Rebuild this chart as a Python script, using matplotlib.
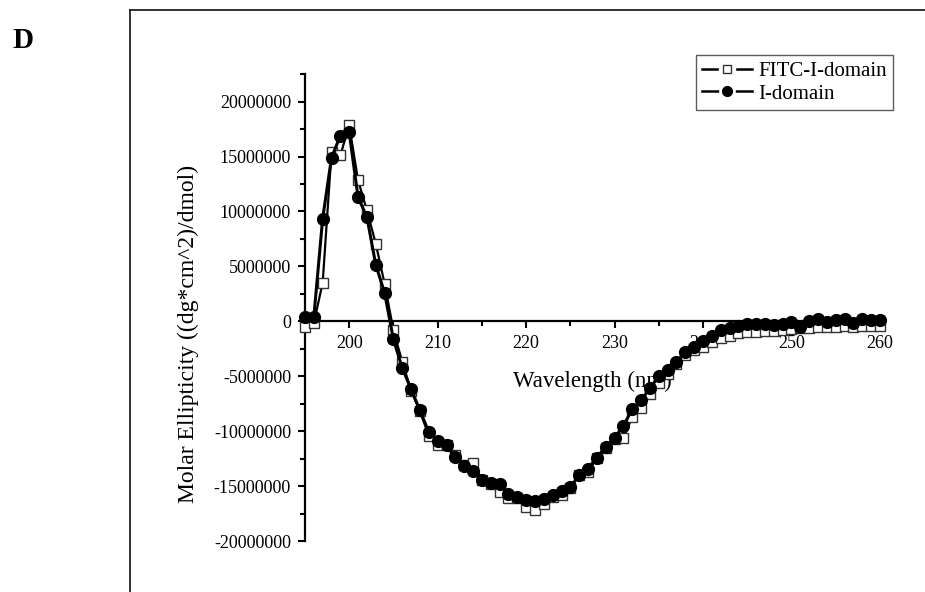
import numpy as np
import matplotlib
matplotlib.use('Agg')
import matplotlib.pyplot as plt
from matplotlib.lines import Line2D
from matplotlib.legend_handler import HandlerTuple
from matplotlib.ticker import MultipleLocator, FuncFormatter

plt.rcParams['font.family'] = ['Liberation Serif', 'DejaVu Serif']

# 波長 (nm)
wavelength = np.arange(195, 261)

# I-domain (實心圓), 單位 1e6
i_domain = [
    0.4, 0.4, 9.35, 14.9, 16.9, 17.2, 11.3, 9.5, 5.16, 2.6,
    -1.65, -4.25, -6.2, -8.1, -10.1, -10.9, -11.3, -12.36, -13.2, -13.6,
    -14.4, -14.7, -14.85, -15.7, -16.0, -16.3, -16.4, -16.15, -15.85, -15.45,
    -15.1, -14.0, -13.4, -12.4, -11.4, -10.6, -9.5, -8.0, -7.2, -6.07,
    -5.0, -4.46, -3.7, -2.8, -2.3, -1.75, -1.3, -0.82, -0.58, -0.43,
    -0.27, -0.21, -0.21, -0.3, -0.2, -0.06, -0.52, 0.0, 0.18, -0.06,
    0.09, 0.24, -0.15, 0.24, 0.15, 0.09,
]

# FITC-I-domain (空心方塊), 單位 1e6
fitc_domain = [
    -0.5, -0.15, 3.5, 15.4, 15.1, 17.85, 12.85, 10.1, 7.08, 3.43,
    -0.82, -3.7, -6.3, -8.2, -10.4, -11.3, -11.3, -12.2, -13.1, -12.9,
    -14.4, -14.8, -15.5, -16.1, -16.1, -16.9, -17.15, -16.6, -16.0, -15.8,
    -15.2, -14.0, -13.7, -12.4, -11.5, -10.7, -10.6, -8.7, -7.9, -6.65,
    -5.6, -4.8, -3.9, -3.1, -2.6, -2.3, -1.9, -1.5, -1.3, -1.1,
    -1.0, -0.95, -0.9, -0.85, -0.8, -0.7, -0.65, -0.6, -0.55, -0.5,
    -0.5, -0.45, -0.5, -0.45, -0.4, -0.4,
]

i_domain = np.array(i_domain) * 1e6
fitc_domain = np.array(fitc_domain) * 1e6

fig = plt.figure(figsize=(9.25, 5.92), dpi=100)
ax = fig.add_axes([0.3297, 0.0861, 0.6216, 0.7886])

ax.plot(wavelength, fitc_domain, '-', color='black', lw=1.6,
        marker='s', ms=7, mfc='white', mec='#333333', mew=1.0,
        zorder=3, clip_on=False)
ax.plot(wavelength, i_domain, '-', color='black', lw=2.2,
        marker='o', ms=8.5, mfc='black', mec='black',
        zorder=4, clip_on=False)

ax.set_xlim(195, 260)
ax.set_ylim(-20000000, 22500000)

ax.spines['top'].set_visible(False)
ax.spines['right'].set_visible(False)
ax.spines['bottom'].set_position(('data', 0))
for s in ['left', 'bottom']:
    ax.spines[s].set_linewidth(1.6)

ax.xaxis.set_minor_locator(MultipleLocator(5))
ax.yaxis.set_major_locator(MultipleLocator(5000000))
ax.yaxis.set_minor_locator(MultipleLocator(2500000))
ax.set_xticks([200, 210, 220, 230, 240, 250, 260])
ax.yaxis.set_major_formatter(FuncFormatter(lambda v, p: f'{int(round(v))}'))

ax.tick_params(axis='both', which='major', direction='out', length=5,
               width=1.5, labelsize=13, pad=5)
ax.tick_params(axis='both', which='minor', direction='out', length=3.5,
               width=1.5)

ax.set_xlabel('Wavelength (nm)', fontsize=16.5)
ax.xaxis.set_label_coords(0.5, 0.365)
ax.set_ylabel('Molar Ellipticity ((dg*cm^2)/dmol)', fontsize=17)
ax.yaxis.set_label_coords(-0.184, 0.443)

# 圖例: 線段在標記兩側斷開
line_h = Line2D([], [], color='black', lw=1.8)
gap_s = Line2D([], [], ls='', marker='s', ms=11, mfc='white', mec='white')
mark_s = Line2D([], [], ls='', marker='s', ms=6, mfc='white', mec='#333333', mew=1.0)
gap_o = Line2D([], [], ls='', marker='o', ms=11, mfc='white', mec='white')
mark_o = Line2D([], [], ls='', marker='o', ms=7, mfc='black', mec='black')

leg = ax.legend([(line_h, gap_s, mark_s), (line_h, gap_o, mark_o)],
                ['FITC-I-domain', 'I-domain'],
                handler_map={tuple: HandlerTuple(ndivide=1, pad=0)},
                loc='upper right', bbox_to_anchor=(1.0226, 1.041),
                fontsize=15, frameon=True, fancybox=False, borderpad=0.3,
                handlelength=2.4, handletextpad=0.3, labelspacing=0.15,
                borderaxespad=0)
leg.get_frame().set_edgecolor('#333333')
leg.get_frame().set_linewidth(1.0)

# 外框
fig.add_artist(Line2D([130 / 925, 130 / 925], [0, 1 - 10 / 592],
                      transform=fig.transFigure, color='#222222', lw=1.3))
fig.add_artist(Line2D([130 / 925, 1], [1 - 10 / 592, 1 - 10 / 592],
                      transform=fig.transFigure, color='#222222', lw=1.3))

fig.text(12 / 925, 1 - 27 / 592, 'D', fontsize=21, fontweight='bold',
         ha='left', va='top')

fig.savefig('out.png', dpi=100)
